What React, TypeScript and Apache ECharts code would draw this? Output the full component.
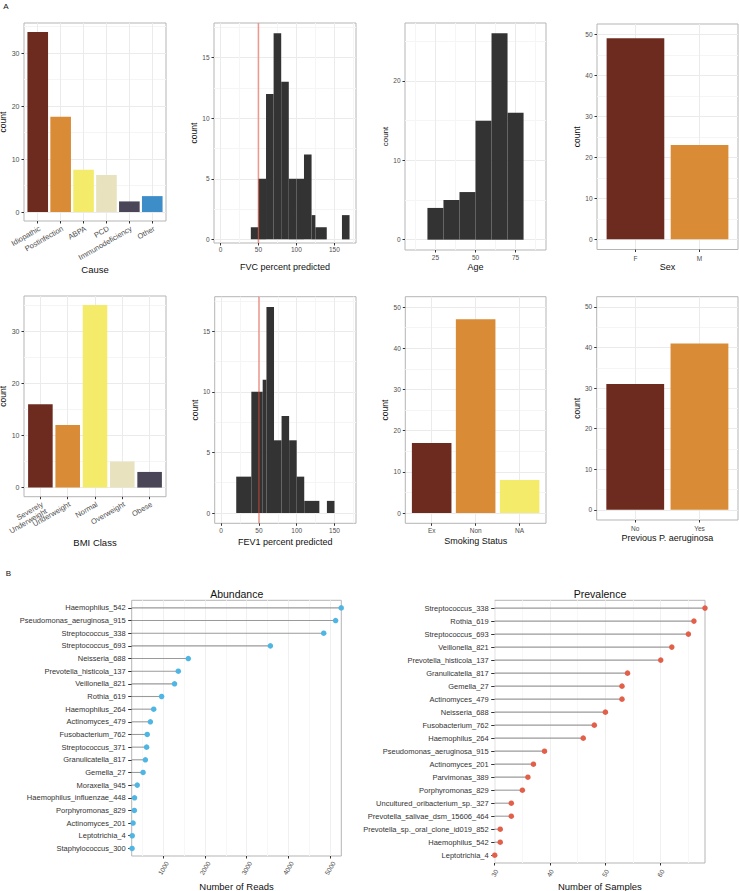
import React, { useEffect, useRef } from "react";
import * as echarts from "echarts";

// ---------------- data ----------------
const causeCats = ["Idiopathic", "Postinfection", "ABPA", "PCD", "Immunodeficiency", "Other"];
const causeCounts = [34, 18, 8, 7, 2, 3];

const sexCats = ["F", "M"];
const sexCounts = [49, 23];

const bmiCats = ["Severely\nUnderweight", "Underweight", "Normal", "Overweight", "Obese"];
const bmiCounts = [16, 12, 35, 5, 3];

const smokeCats = ["Ex", "Non", "NA"];
const smokeCounts = [17, 47, 8];

const prevCats = ["No", "Yes"];
const prevCounts = [31, 41];

const fvcBinStart = [40, 50, 60, 70, 80, 90, 100, 110, 120, 125, 160];
const fvcBinEnd = [50, 60, 70, 80, 90, 100, 110, 120, 125, 140, 170];
const fvcCounts = [1, 5, 12, 17, 13, 5, 5, 7, 2, 1, 2];

const fevBinStart = [20, 40, 55, 60, 70, 80, 90, 100, 110, 140];
const fevBinEnd = [40, 55, 60, 70, 80, 90, 100, 110, 130, 150];
const fevCounts = [3, 10, 11, 17, 6, 8, 6, 3, 1, 1];

const ageBinStart = [20, 30, 40, 50, 60, 70];
const ageBinEnd = [30, 40, 50, 60, 70, 80];
const ageCounts = [4, 5, 6, 15, 26, 16];

const percentThreshold = 50;

const abundTaxa = [
  "Haemophilus_542", "Pseudomonas_aeruginosa_915", "Streptococcus_338", "Streptococcus_693",
  "Neisseria_688", "Prevotella_histicola_137", "Veillonella_821", "Rothia_619",
  "Haemophilus_264", "Actinomyces_479", "Fusobacterium_762", "Streptococcus_371",
  "Granulicatella_817", "Gemella_27", "Moraxella_945", "Haemophilus_influenzae_448",
  "Porphyromonas_829", "Actinomyces_201", "Leptotrichia_4", "Staphylococcus_300",
];
const abundReads = [5270, 5135, 4850, 3570, 1600, 1360, 1270, 960, 770, 690, 615, 600, 570, 515, 375, 310, 305, 275, 255, 250];

const prevTaxa = [
  "Streptococcus_338", "Rothia_619", "Streptococcus_693", "Veillonella_821",
  "Prevotella_histicola_137", "Granulicatella_817", "Gemella_27", "Actinomyces_479",
  "Neisseria_688", "Fusobacterium_762", "Haemophilus_264", "Pseudomonas_aeruginosa_915",
  "Actinomyces_201", "Parvimonas_389", "Porphyromonas_829", "Uncultured_oribacterium_sp._327",
  "Prevotella_salivae_dsm_15606_464", "Prevotella_sp._oral_clone_id019_852", "Haemophilus_542", "Leptotrichia_4",
];
const prevSamples = [68, 66, 65, 62, 60, 54, 53, 53, 50, 48, 46, 39, 37, 36, 35, 33, 33, 31, 31, 30];

const countTicks50 = [0, 10, 20, 30, 40, 50];
const countMinor50 = [5, 15, 25, 35, 45];
const pctTicks = [0, 50, 100, 150];
const pctMinor = [25, 75, 125, 175];
const readTicks = [1000, 2000, 3000, 4000, 5000];
const readMinor = [500, 1500, 2500, 3500, 4500];
const sampleTicks = [30, 40, 50, 60];
const sampleMinor = [35, 45, 55, 65];

// ---------------- styles ----------------
const FONT = '"Liberation Sans", Arial, Helvetica, sans-serif';
const BROWN = "#6d2b1f";
const ORANGE = "#d98b36";
const YELLOW = "#f4eb6b";
const BEIGE = "#e8e2bf";
const SLATE = "#4a4658";
const BLUE = "#3d8dc8";
const HIST = "#333333";
const ABUND_DOT = "#4fb6e3";
const PREV_DOT = "#e2604a";

const seq = (n: number) => Array.from({ length: n }, (_, i) => i + 1);
const catFmt = (cats: string[]) => (v: number) => cats[Math.round(v) - 1] ?? "";
const numFmt = (v: number) => String(v);

function buildOption() {
  const grid: any[] = [];
  const xAxis: any[] = [];
  const yAxis: any[] = [];
  const series: any[] = [];

  const xLabelStyle = (p: any, values: number[]) => ({
    show: true, customValues: values, formatter: p.xFmt, rotate: p.xRotate ?? 0,
    margin: p.xMargin, fontSize: p.xLabelSize, fontFamily: FONT, color: p.labelColor ?? "#4d4d4d",
    hideOverlap: false, showMinLabel: true, showMaxLabel: true,
    align: p.xAlign, verticalAlign: p.xVAlign, lineHeight: p.xLabelSize + 0.5,
  });

  const addPanel = (p: any) => {
    const gi = grid.length;
    grid.push({
      left: p.box[0], top: p.box[1], width: p.box[2], height: p.box[3],
      show: true, borderColor: "#b5b5b5", borderWidth: 1, backgroundColor: "#ffffff",
      containLabel: false, outerBoundsMode: "none",
    });
    const xi = xAxis.length;
    xAxis.push({
      type: "value", gridIndex: gi, min: p.x[0], max: p.x[1], position: "bottom",
      name: p.xName, nameLocation: "middle", nameGap: p.xNameGap,
      nameTextStyle: { fontFamily: FONT, fontSize: p.xNameSize, color: "#111111" },
      axisLine: { show: false, onZero: false },
      axisTick: { show: true, length: 2.5, lineStyle: { color: "#333333", width: 1 }, customValues: p.xTicks },
      axisLabel: xLabelStyle(p, p.xLabelValues ?? p.xTicks),
      splitLine: { show: true, lineStyle: { color: p.majorColor ?? "#ebebeb", width: 1 } },
    });
    if (p.xLabelValues2) {
      // second label row on the same axis position (keeps overlapping rotated labels visible)
      xAxis.push({
        type: "value", gridIndex: gi, min: p.x[0], max: p.x[1], position: "bottom",
        axisLine: { show: false, onZero: false },
        axisTick: { show: false, customValues: p.xLabelValues2 },
        axisLabel: xLabelStyle(p, p.xLabelValues2),
        splitLine: { show: false },
      });
    }
    const yi = yAxis.length;
    yAxis.push({
      type: "value", gridIndex: gi, min: p.y[0], max: p.y[1], position: "left", inverse: !!p.yInverse,
      name: p.yName, nameLocation: "middle", nameGap: p.yNameGap, nameRotate: 90,
      nameTextStyle: { fontFamily: FONT, fontSize: p.yNameSize, color: "#111111" },
      axisLine: { show: false, onZero: false },
      axisTick: { show: true, length: p.yTickLen ?? 2.5, lineStyle: { color: "#333333", width: 1 }, customValues: p.yTicks },
      axisLabel: {
        show: true, customValues: p.yTicks, formatter: p.yFmt ?? numFmt, margin: p.yMargin,
        fontSize: p.yLabelSize, fontFamily: FONT, color: p.yLabelColor ?? "#4d4d4d",
        hideOverlap: false, showMinLabel: true, showMaxLabel: true,
      },
      splitLine: { show: p.ySplit !== false, lineStyle: { color: "#ebebeb", width: 1 } },
    });
    if (p.xMinor) {
      xAxis.push({
        type: "value", gridIndex: gi, min: p.x[0], max: p.x[1], position: "top",
        axisLine: { show: false, onZero: false },
        axisTick: { show: false, customValues: p.xMinor },
        axisLabel: { show: false, customValues: p.xMinor },
        splitLine: { show: true, lineStyle: { color: p.minorColor ?? "#f5f5f5", width: 1 } },
      });
    }
    if (p.yMinor) {
      yAxis.push({
        type: "value", gridIndex: gi, min: p.y[0], max: p.y[1], position: "right",
        axisLine: { show: false, onZero: false },
        axisTick: { show: false, customValues: p.yMinor },
        axisLabel: { show: false, customValues: p.yMinor },
        splitLine: { show: true, lineStyle: { color: "#f5f5f5", width: 1 } },
      });
    }
    return { x: xi, y: yi };
  };

  const addBars = (ax: any, counts: number[], colors: string[]) => {
    series.push({
      type: "custom", xAxisIndex: ax.x, yAxisIndex: ax.y, silent: true,
      data: counts.map((c, k) => [k + 1, c]),
      encode: { x: 0, y: 1 },
      renderItem: (params: any, api: any) => {
        const xv = api.value(0);
        const v = api.value(1);
        const a = api.coord([xv - 0.45, 0]);
        const b = api.coord([xv + 0.45, v]);
        return {
          type: "rect",
          shape: { x: a[0], y: b[1], width: b[0] - a[0], height: a[1] - b[1] },
          style: { fill: colors[params.dataIndex % colors.length] },
        };
      },
    });
  };

  const addHist = (ax: any, starts: number[], ends: number[], counts: number[]) => {
    series.push({
      type: "custom", xAxisIndex: ax.x, yAxisIndex: ax.y, silent: true,
      data: starts.map((s, k) => [s, ends[k], counts[k]]),
      encode: { x: [0, 1], y: 2 },
      renderItem: (params: any, api: any) => {
        const a = api.coord([api.value(0), 0]);
        const b = api.coord([api.value(1), api.value(2)]);
        return {
          type: "rect",
          shape: { x: a[0], y: b[1], width: b[0] - a[0], height: a[1] - b[1] },
          style: { fill: HIST },
        };
      },
    });
  };

  const addVLine = (ax: any, xv: number, yr: number[]) => {
    series.push({
      type: "line", xAxisIndex: ax.x, yAxisIndex: ax.y, silent: true,
      data: [[xv, yr[0]], [xv, yr[1]]], symbol: "none", showSymbol: false,
      lineStyle: { color: "rgba(232,72,52,0.5)", width: 1.6 }, z: 5,
    });
  };

  const addLollipop = (ax: any, values: number[], xmin: number, color: string) => {
    series.push({
      type: "custom", xAxisIndex: ax.x, yAxisIndex: ax.y, silent: true,
      data: values.map((v, k) => [v, k + 1]),
      encode: { x: 0, y: 1 },
      renderItem: (params: any, api: any) => {
        const a = api.coord([xmin, api.value(1)]);
        const b = api.coord([api.value(0), api.value(1)]);
        return {
          type: "line",
          shape: { x1: a[0], y1: a[1], x2: b[0], y2: b[1] },
          style: { stroke: "#9a9a9a", lineWidth: 1.1 },
        };
      },
    });
    series.push({
      type: "scatter", xAxisIndex: ax.x, yAxisIndex: ax.y, silent: true,
      data: values.map((v, k) => [v, k + 1]),
      symbol: "circle", symbolSize: 5.5, itemStyle: { color, opacity: 1 }, z: 4,
    });
  };

  // ---- Panel A, row 1 ----
  const p1 = addPanel({
    box: [24, 23, 142, 198], x: [0.4, 6.6], y: [-1.7, 35.7],
    xTicks: seq(6), xLabelValues: [1, 3, 5], xLabelValues2: [2, 4, 6],
    xFmt: catFmt(causeCats), xRotate: 30, xAlign: "right", xVAlign: "top",
    xMargin: 3.5, xLabelSize: 7.5,
    yTicks: [0, 10, 20, 30], yMinor: [5, 15, 25, 35], yLabelSize: 7, yMargin: 4.5,
    xName: "Cause", xNameGap: 42, xNameSize: 9.5, yName: "count", yNameGap: 11.5, yNameSize: 8.5,
  });
  addBars(p1, causeCounts, [BROWN, ORANGE, YELLOW, BEIGE, SLATE, BLUE]);

  const fvcY = [-0.3, 17.85];
  const p2 = addPanel({
    box: [214, 23, 142, 220], x: [-8.5, 178.5], y: fvcY,
    xTicks: pctTicks, xMinor: pctMinor, xFmt: numFmt, xMargin: 2.5, xLabelSize: 6.5,
    yTicks: [0, 5, 10, 15], yMinor: [2.5, 7.5, 12.5, 17.5], yLabelSize: 6.5, yMargin: 4.5,
    xName: "FVC percent predicted", xNameGap: 19, xNameSize: 9, yName: "count", yNameGap: 14.5, yNameSize: 8.5,
  });
  addHist(p2, fvcBinStart, fvcBinEnd, fvcCounts);
  addVLine(p2, percentThreshold, fvcY);

  const p3 = addPanel({
    box: [405, 23, 141, 227], x: [6, 94], y: [-1.3, 27.3],
    xTicks: [25, 50, 75], xMinor: [12.5, 37.5, 62.5, 87.5], xFmt: numFmt, xMargin: 4, xLabelSize: 6.5,
    yTicks: [0, 10, 20], yMinor: [5, 15, 25], yLabelSize: 6.5, yMargin: 4.5,
    xName: "Age", xNameGap: 12, xNameSize: 9, yName: "count", yNameGap: 15.5, yNameSize: 8,
  });
  addHist(p3, ageBinStart, ageBinEnd, ageCounts);

  const p4 = addPanel({
    box: [597, 24, 141, 225.5], x: [0.4, 2.6], y: [-2.5, 52.5],
    xTicks: seq(2), xFmt: catFmt(sexCats), xMargin: 5, xLabelSize: 6.5,
    yTicks: countTicks50, yMinor: countMinor50, yLabelSize: 6.5, yMargin: 4.5,
    xName: "Sex", xNameGap: 12.5, xNameSize: 9, yName: "count", yNameGap: 15.2, yNameSize: 8.5,
  });
  addBars(p4, sexCounts, [BROWN, ORANGE]);

  // ---- Panel A, row 2 ----
  const p5 = addPanel({
    box: [24, 296, 142, 200.7], x: [0.4, 5.6], y: [-1.75, 36.75],
    xTicks: seq(5), xLabelValues: [1, 3, 5], xLabelValues2: [2, 4],
    xFmt: catFmt(bmiCats), xRotate: 30, xAlign: "right", xVAlign: "top",
    xMargin: 3.5, xLabelSize: 7.5,
    yTicks: [0, 10, 20, 30], yMinor: [5, 15, 25, 35], yLabelSize: 7, yMargin: 4.5,
    xName: "BMI Class", xNameGap: 30, xNameSize: 9.5, yName: "count", yNameGap: 11.5, yNameSize: 8.5,
  });
  addBars(p5, bmiCounts, [BROWN, ORANGE, YELLOW, BEIGE, SLATE]);

  const fevY = [-0.85, 17.85];
  const p6 = addPanel({
    box: [214.7, 296.7, 141.3, 226.6], x: [-8.5, 178.5], y: fevY,
    xTicks: pctTicks, xMinor: pctMinor, xFmt: numFmt, xMargin: 4, xLabelSize: 6.5,
    yTicks: [0, 5, 10, 15], yMinor: [2.5, 7.5, 12.5, 17.5], yLabelSize: 6.5, yMargin: 4.5,
    xName: "FEV1 percent predicted", xNameGap: 14, xNameSize: 9, yName: "count", yNameGap: 15.2, yNameSize: 8.5,
  });
  addHist(p6, fevBinStart, fevBinEnd, fevCounts);
  addVLine(p6, percentThreshold, fevY);

  const p7 = addPanel({
    box: [405.3, 296.7, 140.7, 226.6], x: [0.4, 3.6], y: [-2.5, 52.5],
    xTicks: seq(3), xFmt: catFmt(smokeCats), xMargin: 4, xLabelSize: 6.5,
    yTicks: countTicks50, yMinor: countMinor50, yLabelSize: 6.5, yMargin: 4.5,
    xName: "Smoking Status", xNameGap: 13, xNameSize: 9, yName: "count", yNameGap: 15.8, yNameSize: 8.5,
  });
  addBars(p7, smokeCounts, [BROWN, ORANGE, YELLOW]);

  const p8 = addPanel({
    box: [596.7, 296.7, 141.3, 223.3], x: [0.4, 2.6], y: [-2.5, 52.5],
    xTicks: seq(2), xFmt: catFmt(prevCats), xMargin: 4.5, xLabelSize: 6.5,
    yTicks: countTicks50, yMinor: countMinor50, yLabelSize: 6.5, yMargin: 4.5,
    xName: "Previous P. aeruginosa", xNameGap: 13.8, xNameSize: 9, yName: "count", yNameGap: 15.5, yNameSize: 8.5,
  });
  addBars(p8, prevCounts, [BROWN, ORANGE]);

  // ---- Panel B ----
  const abundX = [242, 5272];
  const b1 = addPanel({
    box: [131.7, 600.3, 209.6, 255.7], x: abundX, y: [0.4, 20.6], yInverse: true,
    xTicks: readTicks, xMinor: readMinor, xFmt: numFmt, xRotate: 60, xAlign: "center", xVAlign: "middle",
    xMargin: 12, xLabelSize: 6.5, majorColor: "#f0f0f0", minorColor: "#f7f7f7",
    yTicks: seq(20), yFmt: catFmt(abundTaxa), yLabelSize: 7.5, yMargin: 6, yTickLen: 3.5,
    yLabelColor: "#333333", ySplit: false,
    xName: "Number of Reads", xNameGap: 25, xNameSize: 9.5,
  });
  addLollipop(b1, abundReads, abundX[0], ABUND_DOT);

  const sampleX = [30, 68];
  const b2 = addPanel({
    box: [494.7, 600.3, 210.3, 262.7], x: sampleX, y: [0.4, 20.6], yInverse: true,
    xTicks: sampleTicks, xMinor: sampleMinor, xFmt: numFmt, xRotate: 60, xAlign: "center", xVAlign: "middle",
    xMargin: 10, xLabelSize: 6.5, majorColor: "#f0f0f0", minorColor: "#f7f7f7",
    yTicks: seq(20), yFmt: catFmt(prevTaxa), yLabelSize: 7.5, yMargin: 6, yTickLen: 3.5,
    yLabelColor: "#333333", ySplit: false,
    xName: "Number of Samples", xNameGap: 18, xNameSize: 9.5,
  });
  addLollipop(b2, prevSamples, sampleX[0], PREV_DOT);

  const txt = (text: string, x: number, y: number, size: number) => ({
    type: "text", x, y, silent: true,
    style: {
      text, fill: "#111111", font: `${size}px ${FONT}`, fontSize: size, fontFamily: FONT,
      align: "center", verticalAlign: "middle", textAlign: "center", textVerticalAlign: "middle",
    },
  });

  return {
    animation: false,
    backgroundColor: "#ffffff",
    textStyle: { fontFamily: FONT },
    grid, xAxis, yAxis, series,
    graphic: {
      elements: [
        txt("A", 6, 6, 8),
        txt("B", 8.3, 573.3, 8),
        txt("Abundance", 236.7, 594, 10.5),
        txt("Prevalence", 600, 594, 10.5),
      ],
    },
  };
}

export default function App() {
  const ref = useRef<HTMLDivElement>(null);
  useEffect(() => {
    if (!ref.current) return;
    const chart = echarts.init(ref.current, null, { renderer: "svg", width: 739, height: 891 });
    chart.setOption(buildOption() as any);
    return () => chart.dispose();
  }, []);
  return (
    <div
      ref={ref}
      style={{ position: "fixed", left: 0, top: 0, width: 739, height: 891, background: "#ffffff" }}
    />
  );
}
